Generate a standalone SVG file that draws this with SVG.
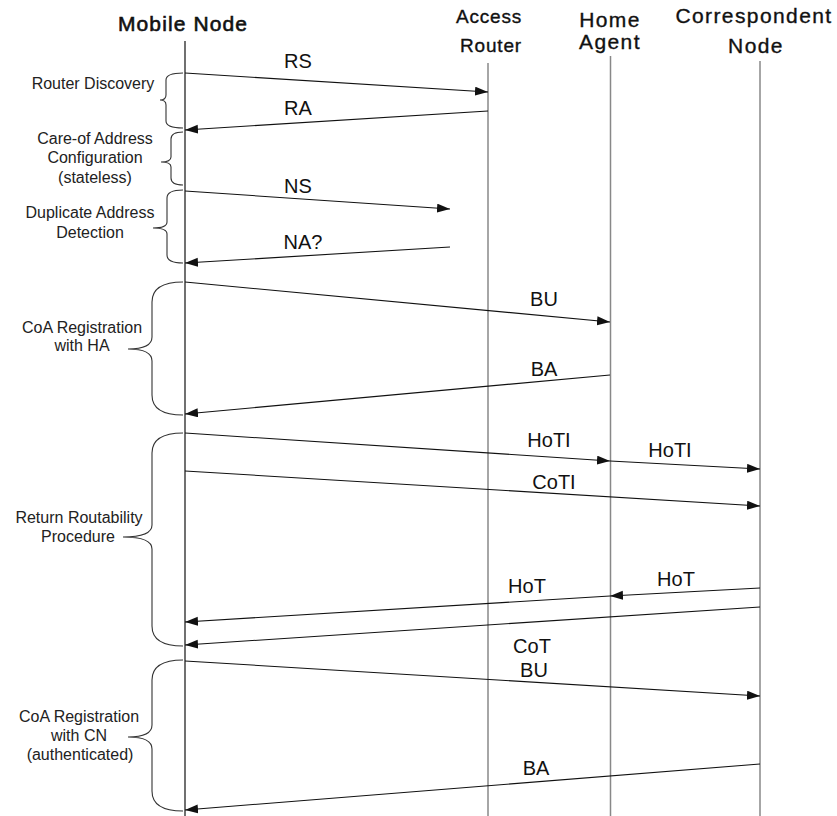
<svg xmlns="http://www.w3.org/2000/svg" width="837" height="816" viewBox="0 0 837 816">
<style>
  text { font-family: "Liberation Sans", Arial, sans-serif; fill: #111; }
  .hdr { font-size: 21px; letter-spacing: 1.4px; text-anchor: middle; stroke: #111; stroke-width: 0.35; }
  .hdrmn { font-size: 21px; letter-spacing: 1.1px; text-anchor: middle; stroke: #111; stroke-width: 0.6; }
  .hdr2 { font-size: 19px; letter-spacing: 0.8px; text-anchor: middle; stroke: #111; stroke-width: 0.35; }
  .msg { font-size: 20px; text-anchor: middle; }
  .lbl { font-size: 16px; text-anchor: middle; fill: #222; }
  .life { stroke: #888; stroke-width: 1.5; fill: none; }
  .lifemn { stroke: #111; stroke-width: 1.2; fill: none; }
  .arr { stroke: #111; stroke-width: 1.1; fill: none; marker-end: url(#ah); }
  .brace { stroke: #333; stroke-width: 1.1; fill: none; }
</style>
<defs>
  <marker id="ah" markerUnits="userSpaceOnUse" markerWidth="14" markerHeight="10" refX="13" refY="4.5" orient="auto">
    <path d="M0,0 L13,4.5 L0,9 Z" fill="#111"/>
  </marker>
</defs>
<rect width="837" height="816" fill="#fff"/>

<g id="mobile-node">
  <text class="hdrmn" x="183" y="31">Mobile Node</text>
  <line class="lifemn" x1="185" y1="41" x2="185" y2="816"/>
</g>
<g id="access-router">
  <text class="hdr2" x="489" y="23">Access</text>
  <text class="hdr2" x="491" y="52">Router</text>
  <line class="life" x1="488" y1="63" x2="488" y2="816"/>
</g>
<g id="home-agent">
  <text class="hdr" x="610" y="27">Home</text>
  <text class="hdr" x="610" y="49">Agent</text>
  <line class="life" x1="610.5" y1="56" x2="610.5" y2="816"/>
</g>
<g id="correspondent-node">
  <text class="hdr" x="754" y="23">Correspondent</text>
  <text class="hdr" x="756" y="53">Node</text>
  <line class="life" x1="760" y1="61" x2="760" y2="816"/>
</g>

<g id="phases">
  <g id="router-discovery">
    <path class="brace" d="M183,73 Q166,73 166,80 L166,95 Q166,100 160,100 Q166,100 166,105 L166,121 Q166,128 183,128"/>
    <text class="lbl" x="93" y="89">Router Discovery</text>
  </g>
  <g id="coa-configuration">
    <path class="brace" d="M183,132 Q171,132 171,139 L171,157 Q171,162 161,162 Q171,162 171,167 L171,178 Q171,185 183,185"/>
    <text class="lbl" x="95" y="144">Care-of Address</text>
    <text class="lbl" x="95" y="163">Configuration</text>
    <text class="lbl" x="95" y="183">(stateless)</text>
  </g>
  <g id="dad">
    <path class="brace" d="M183,190 Q167,190 167,198 L167,222 Q167,228 153,228 Q167,228 167,234 L167,255 Q167,263 183,263"/>
    <text class="lbl" x="90" y="218">Duplicate Address</text>
    <text class="lbl" x="90" y="238">Detection</text>
  </g>
  <g id="coa-reg-ha">
    <path class="brace" d="M183,282 Q152,282 152,302 L152,337 Q152,349 128,349 Q152,349 152,361 L152,395 Q152,415 183,415"/>
    <text class="lbl" x="82" y="333">CoA Registration</text>
    <text class="lbl" x="82" y="351">with HA</text>
  </g>
  <g id="return-routability">
    <path class="brace" d="M183,433 Q152,433 152,453 L152,525 Q152,537 123,537 Q152,537 152,549 L152,626 Q152,646 183,646"/>
    <text class="lbl" x="79" y="523">Return Routability</text>
    <text class="lbl" x="78" y="542">Procedure</text>
  </g>
  <g id="coa-reg-cn">
    <path class="brace" d="M183,660 Q152,660 152,680 L152,725 Q152,737 128,737 Q152,737 152,749 L152,791 Q152,811 183,811"/>
    <text class="lbl" x="79" y="722">CoA Registration</text>
    <text class="lbl" x="79" y="741">with CN</text>
    <text class="lbl" x="80" y="760">(authenticated)</text>
  </g>
</g>

<g id="connectors">
  <line class="arr" x1="185" y1="73" x2="488" y2="92"/>
  <line class="arr" x1="488" y1="111" x2="185" y2="130"/>
  <line class="arr" x1="185" y1="191" x2="450" y2="209"/>
  <line class="arr" x1="450" y1="247" x2="185" y2="263"/>
  <line class="arr" x1="185" y1="282" x2="610" y2="322"/>
  <line class="arr" x1="610" y1="375" x2="185" y2="414"/>
  <line class="arr" x1="185" y1="433" x2="610" y2="461"/>
  <line class="arr" x1="610" y1="461" x2="760" y2="469"/>
  <line class="arr" x1="185" y1="471" x2="760" y2="506"/>
  <line class="arr" x1="760" y1="588" x2="610" y2="596"/>
  <line class="arr" x1="610" y1="596" x2="185" y2="622"/>
  <line class="arr" x1="760" y1="607" x2="185" y2="645"/>
  <line class="arr" x1="185" y1="661" x2="760" y2="696"/>
  <line class="arr" x1="760" y1="764" x2="185" y2="810"/>
</g>

<g id="message-labels">
  <text class="msg" x="298" y="68">RS</text>
  <text class="msg" x="298" y="115">RA</text>
  <text class="msg" x="298" y="193">NS</text>
  <text class="msg" x="303" y="249">NA?</text>
  <text class="msg" x="544" y="306">BU</text>
  <text class="msg" x="544" y="376">BA</text>
  <text class="msg" x="549" y="447">HoTI</text>
  <text class="msg" x="670" y="457">HoTI</text>
  <text class="msg" x="554" y="489">CoTI</text>
  <text class="msg" x="676" y="586">HoT</text>
  <text class="msg" x="527" y="593">HoT</text>
  <text class="msg" x="532" y="653">CoT</text>
  <text class="msg" x="534" y="677">BU</text>
  <text class="msg" x="536" y="775">BA</text>
</g>
</svg>
